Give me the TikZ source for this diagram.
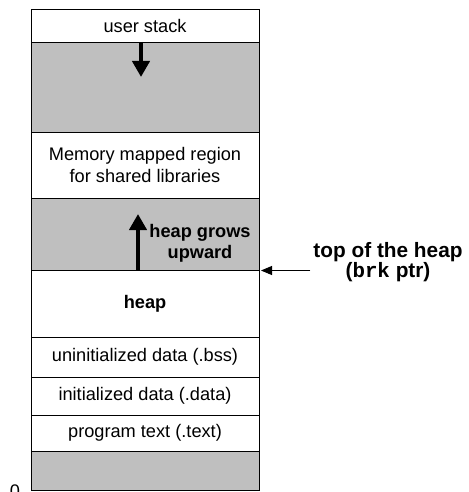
\documentclass[tikz,border=0pt]{standalone}
\usepackage{fontspec}
\setmainfont{Liberation Sans}
\setmonofont{Liberation Mono}
\usepackage{tikz}
\usetikzlibrary{arrows.meta,positioning}

\tikzset{
  seg/.style={draw,line width=0.9pt,minimum width=228pt,minimum height=#1,inner sep=0pt,outer sep=0pt,align=center},
  gap/.style={seg=#1,fill=black!25},
  growarrow/.style={line width=4pt,-{Triangle[length=16pt,width=17pt]}},
  ptr/.style={line width=0.9pt,-{Triangle[length=11pt,width=9pt]}}
}

\begin{document}
\begin{tikzpicture}[x=1pt,y=-1pt,font=\fontsize{18.2}{22}\selectfont]
\useasboundingbox (0,0) rectangle (468,492);
% address space, top to bottom
\node[seg=33pt] (stack) at (145,25.5) {user stack};
\node[gap=90pt,below=0pt of stack] (stackgap) {};
\node[seg=66pt,below=0pt of stackgap] (mmap) {Memory mapped region\\for shared libraries};
\node[gap=72.5pt,below=0pt of mmap] (heapgap) {};
\node[seg=66.5pt,below=0pt of heapgap,font=\fontsize{18.2}{22}\selectfont\bfseries] (heap) {heap};
\node[seg=40pt,below=0pt of heap] (bss) {uninitialized data (.bss)};
\node[seg=38pt,below=0pt of bss] (data) {initialized data (.data)};
\node[seg=36pt,below=0pt of data] (text) {program text (.text)};
\node[gap=39.5pt,below=0pt of text] (bottom) {};
\node[anchor=north,inner sep=0pt] (zero) at (15,485) {0};
% growth arrows
\coordinate (stacktip) at (141,77);
\draw[growarrow] (stack.south -| stacktip) -- (stacktip);
\coordinate (heaptip) at (138,214);
\draw[growarrow] (heap.north -| heaptip) -- (heaptip);
\node[font=\fontsize{18.2}{21}\selectfont\bfseries,align=center,inner sep=0pt] (grows) at (200,243.5) {heap grows\\upward};
% brk pointer
\node[font=\fontsize{20.8}{20}\selectfont\bfseries,align=center,inner sep=3pt] (brk) at (388,262) {top of the heap\\(\texttt{\bfseries brk} ptr)};
\draw[ptr] (brk.west |- heap.north) -- ([xshift=2pt]heap.north east);
\end{tikzpicture}
\end{document}
